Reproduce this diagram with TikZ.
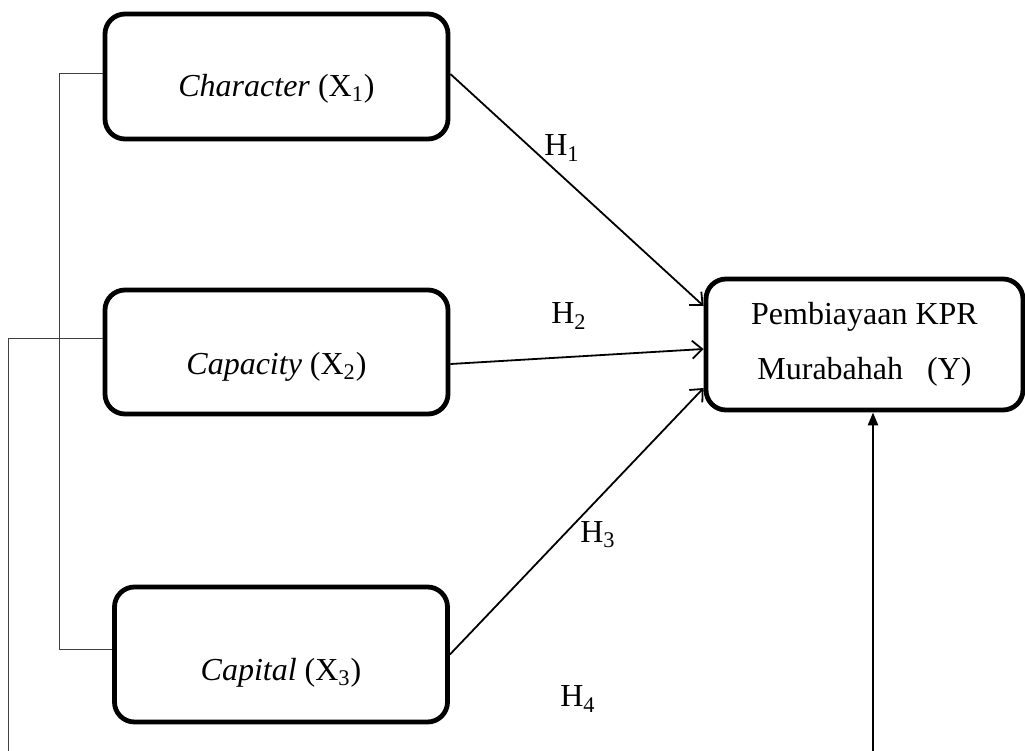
\documentclass[tikz,border=0pt]{standalone}
\usepackage{fontspec}
\setmainfont{Liberation Serif}
\usepackage{tikz}
\usetikzlibrary{arrows.meta, positioning}

\begin{document}
\begin{tikzpicture}[x=0.5pt, y=-0.5pt,
  var/.style={rectangle, draw=black, line width=2.4pt, rounded corners=10pt,
    minimum width=171.5pt, inner xsep=0pt, inner ysep=0pt, anchor=base,
    font=\fontsize{16}{19}\selectfont},
  hyp/.style={font=\fontsize{16}{19}\selectfont},
  flow/.style={-{Straight Barb[length=5pt, width=9pt]}, black, line width=0.9pt},
  link/.style={black!75, line width=0.5pt}
]
\useasboundingbox (0,0) rectangle (1025,751);
\node[var, text height=41pt, text depth=21.5pt] (char) at (276.5,96) {\textit{Character} (X\textsubscript{1})};
\node[var, text height=42pt, text depth=20pt] (cap) at (276.5,374) {\textit{Capacity} (X\textsubscript{2})};
\node[var, minimum width=166.5pt, text height=46.5pt, text depth=21pt] (capi) at (281,680) {\textit{Capital} (X\textsubscript{3})};
\node[var, anchor=center, minimum width=158.5pt, minimum height=65.5pt, align=center,
  font=\fontsize{16}{27.5}\selectfont] (y) at (864.5,344.5) {Pembiayaan KPR\\Murabahah\ \ \ (Y)};
\node[hyp] (h1) at (562,148) {H\textsubscript{1}};
\node[hyp] (h2) at (569,316) {H\textsubscript{2}};
\node[hyp] (h3) at (598,535) {H\textsubscript{3}};
\node[hyp] (h4) at (578,699) {H\textsubscript{4}};
\coordinate (lowL) at (8,751);
\coordinate (lowR) at (873,751);
\draw[flow] ([yshift=1.25pt]char.east) -- ([yshift=19.25pt]y.west);
\draw[flow] ([yshift=-6pt]cap.east) -- ([yshift=-2.25pt]y.west);
\draw[flow] ([yshift=0pt]capi.east) -- ([yshift=-21.75pt]y.west);
\draw[link] ([yshift=1.75pt]char.west) -- ++(-43,0) |- ([yshift=2.75pt]capi.west);
\draw[link] ([yshift=7pt]cap.west) -| (lowL);
\draw[-{Triangle[length=6.5pt, width=5pt]}, line width=1.25pt] (lowR) -- (lowR |- y.south);
\end{tikzpicture}
\end{document}
